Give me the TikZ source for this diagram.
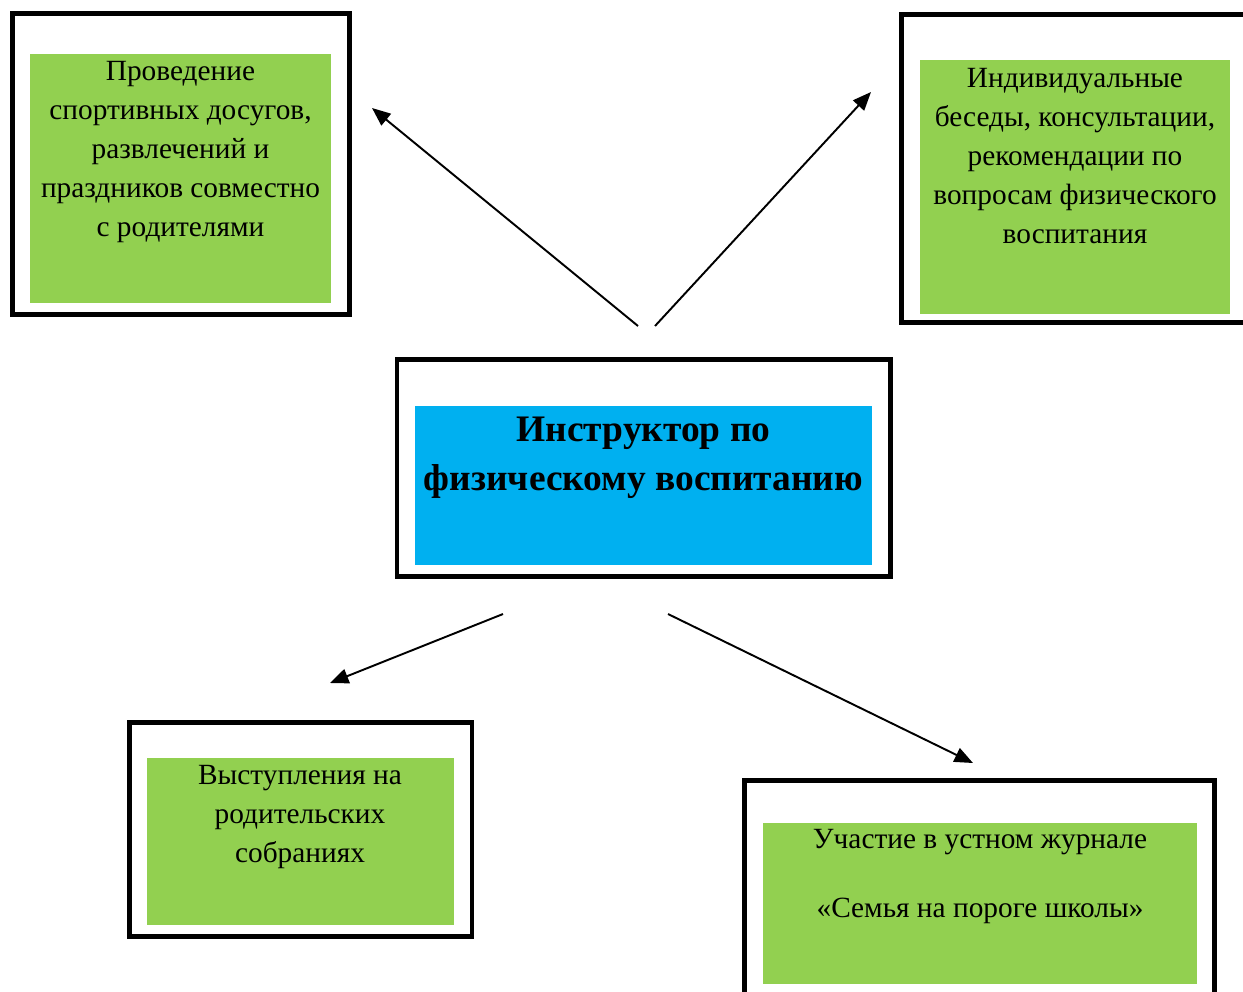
\documentclass[tikz,border=0pt]{standalone}
\usepackage{fontspec}
\setmainfont{Liberation Serif}
\usetikzlibrary{arrows.meta}
\definecolor{boxgreen}{HTML}{92D050}
\definecolor{boxblue}{HTML}{00B0F0}
\begin{document}
\begin{tikzpicture}[x=0.02cm,y=-0.02cm,
  frame/.style={draw=black,line width=2.7pt},
  label/.style={anchor=base,inner sep=0pt,align=center,font=\fontsize{16.7}{22.11}\selectfont},
  conn/.style={line width=1.1pt,-{Triangle[length=10.5pt,width=8.5pt]}}]
\useasboundingbox (0,0) rectangle (1243,991);
\fill[white] (0,0) rectangle (1243,991);

% top-left
\draw[frame] (12.5,13.5) rectangle (349.5,314.5);
\fill[boxgreen] (30,54) rectangle (331,302.7);
\node[label] (tl) at (180.5,236) {Проведение\\спортивных досугов,\\развлечений и\\праздников совместно\\с родителями};

% top-right
\draw[frame] (1300,14.5) -- (901.5,14.5) -- (901.5,322.5) -- (1300,322.5);
\fill[boxgreen] (920,60) rectangle (1230,314);
\node[label] (tr) at (1075,243.3) {Индивидуальные\\беседы, консультации,\\рекомендации по\\вопросам физического\\воспитания};

% center
\draw[frame] (397,359.5) rectangle (890.5,576.5);
\fill[boxblue] (415,406) rectangle (872,564.7);
\node[label,font=\bfseries\fontsize{21.3}{27.4}\selectfont] (ctr) at (643.5,490) {Инструктор по\\физическому воспитанию};

% bottom-left
\draw[frame] (129.5,722.5) rectangle (472,936.5);
\fill[boxgreen] (146.7,758) rectangle (454,924.7);
\node[label] (bl) at (300,862) {Выступления на\\родительских\\собраниях};

% bottom-right
\draw[frame] (744.5,1010) -- (744.5,780.5) -- (1214.5,780.5) -- (1214.5,1010);
\fill[boxgreen] (762.7,822.7) rectangle (1197,984);
\node[label] (br) at (980,917) {Участие в устном журнале\\[17pt]«Семья на пороге школы»};

% connectors
\coordinate (a1s) at (638,326);
\coordinate (a1e) at (372,108);
\coordinate (a2s) at (655,326);
\coordinate (a2e) at (871,92);
\coordinate (a3s) at (503,614);
\coordinate (a3e) at (330,683);
\coordinate (a4s) at (668,614);
\coordinate (a4e) at (973,763);
\draw[conn] (a1s) -- (a1e);
\draw[conn] (a2s) -- (a2e);
\draw[conn] (a3s) -- (a3e);
\draw[conn] (a4s) -- (a4e);
\end{tikzpicture}
\end{document}
